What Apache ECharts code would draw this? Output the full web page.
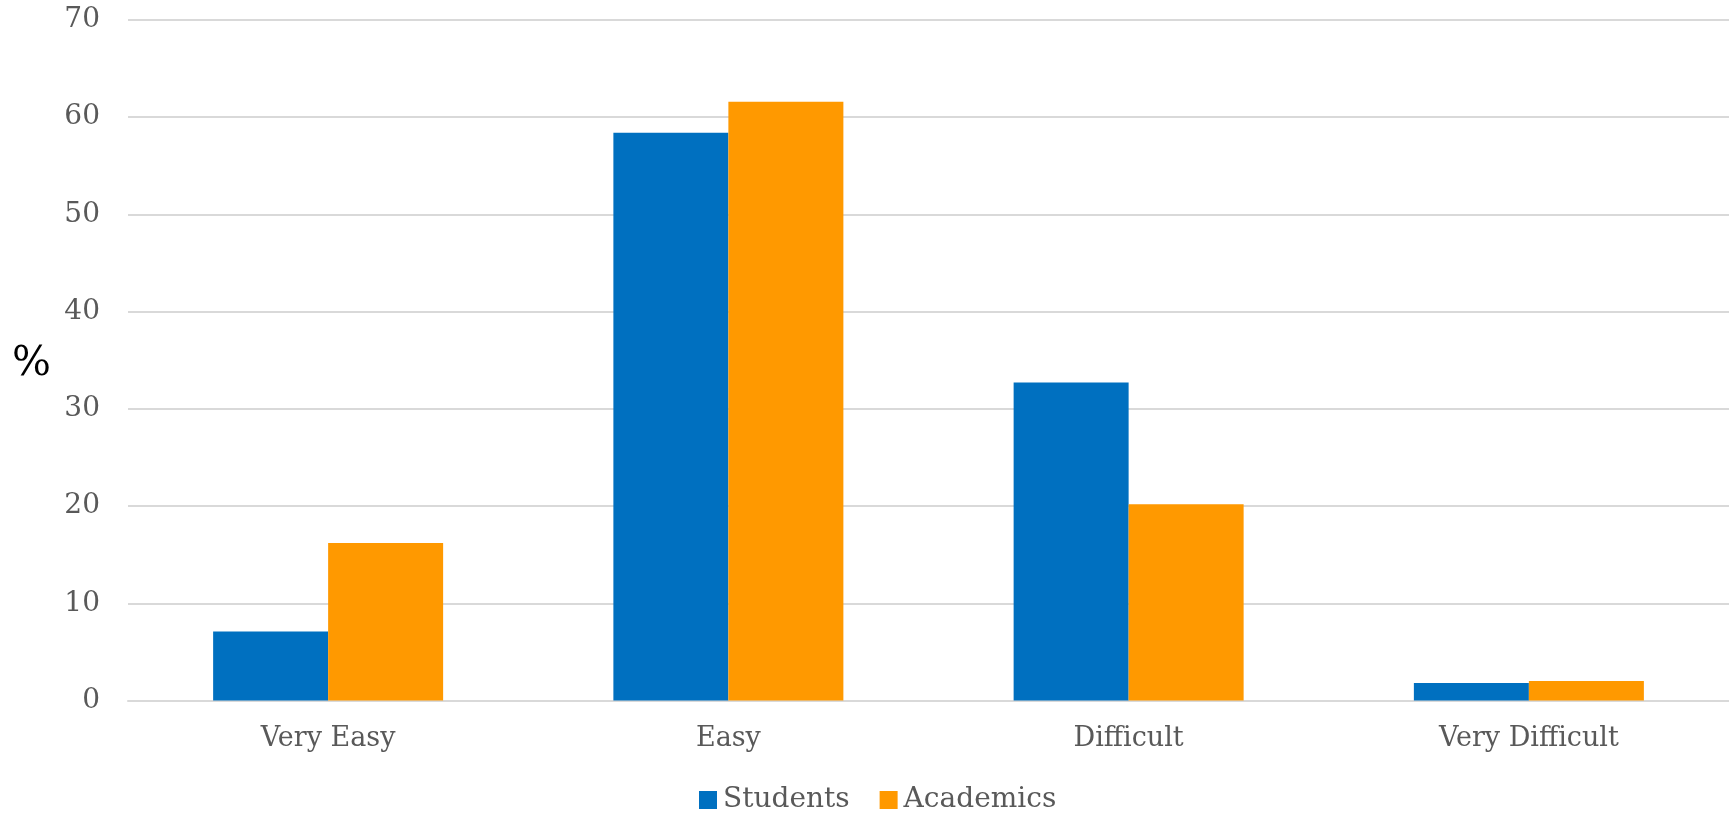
<!DOCTYPE html>
<html><head><meta charset="utf-8">
<script src="https://cdn.jsdelivr.net/npm/echarts@6/dist/echarts.min.js"></script>
<style>html,body{margin:0;padding:0;background:#fff}#c{width:1729px;height:813px}</style>
</head><body><div id="c"></div>
<script>
const categories = ['Very Easy', 'Easy', 'Difficult', 'Very Difficult'];
const students = [7.1, 58.4, 32.7, 1.8];
const academics = [16.2, 61.6, 20.2, 2.0];
const yTicks = [0, 10, 20, 30, 40, 50, 60, 70];

const FONT = '"DejaVu Serif", "Liberation Serif", serif';
const chart = echarts.init(document.getElementById('c'), null, {renderer: 'canvas'});
chart.setOption({
  animation: false,
  backgroundColor: '#ffffff',
  grid: {left: 128, top: 20, width: 1608, height: 680.5, containLabel: false},
  xAxis: {
    type: 'category', data: categories,
    axisLine: {show: true, lineStyle: {color: '#d9d9d9', width: 2}},
    axisTick: {show: false},
    axisLabel: {color: '#595959', fontFamily: FONT, fontSize: 27, margin: 25}
  },
  yAxis: {
    type: 'value', min: yTicks[0], max: yTicks[yTicks.length - 1], interval: 10,
    axisLine: {show: false}, axisTick: {show: false},
    splitLine: {lineStyle: {color: '#d9d9d9', width: 2}},
    axisLabel: {color: '#595959', fontFamily: FONT, fontSize: 28, margin: 28}
  },
  legend: {
    top: 782, left: 699, padding: 0, itemWidth: 18, itemHeight: 18, itemGap: 30,
    icon: 'rect',
    textStyle: {color: '#595959', fontFamily: FONT, fontSize: 28, lineHeight: 36, padding: [0, 0, 0, 1]},
    data: ['Students', 'Academics']
  },
  graphic: [{
    type: 'text', left: 12, top: 344,
    style: {text: '%', fill: '#000', font: '41px ' + FONT}
  }],
  series: [
    {name: 'Students', type: 'bar', data: students, barWidth: 115, barGap: '0%',
     itemStyle: {color: '#0070C0'}},
    {name: 'Academics', type: 'bar', data: academics, barWidth: 115, barGap: '0%',
     itemStyle: {color: '#FF9900'}}
  ]
});
</script></body></html>
